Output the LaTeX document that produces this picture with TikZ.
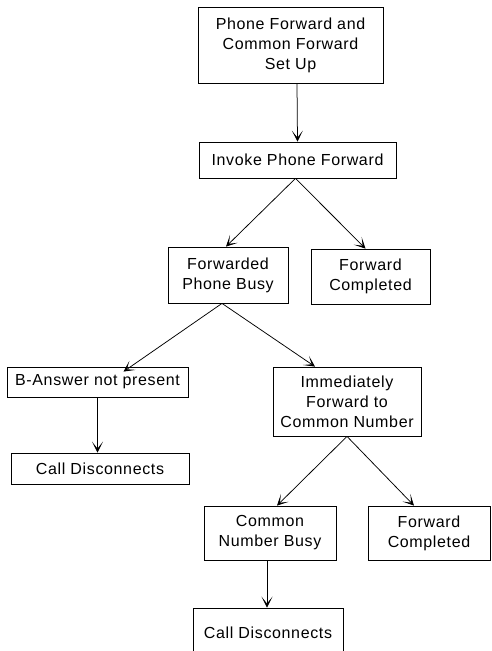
\documentclass[tikz,border=0pt]{standalone}
\usepackage{fontspec}
\setmainfont{Liberation Sans}[LetterSpace=4]
\usetikzlibrary{arrows.meta}
\begin{document}
\begin{tikzpicture}[x=1pt,y=-1pt,
  box/.style={draw=black, line width=0.8pt, inner sep=0pt, align=center,
    font=\fontsize{16}{20}\selectfont},
  flow/.style={draw=black, line width=0.75pt,
    -{Stealth[length=11pt,width=11pt,inset=7pt]}}]
\useasboundingbox (0,0) rectangle (491,651);
% boxes, placed by centre with their measured sizes
\node[box, minimum width=185pt, minimum height=76pt] (setup) at (290.5,45)
  {Phone Forward and\\Common Forward\\Set Up};
\node[box, minimum width=197pt, minimum height=36pt] (invoke) at (297.5,160)
  {Invoke Phone Forward};
\node[box, minimum width=120pt, minimum height=56pt] (fbusy) at (228,275)
  {Forwarded\\Phone Busy};
\node[box, minimum width=119pt, minimum height=55pt] (fdoneA) at (370.5,276.5)
  {Forward\\Completed};
\node[box, minimum width=181pt, minimum height=30pt] (bans) at (97.5,382)
  {B-Answer not present};
\node[box, minimum width=178pt, minimum height=31pt] (discA) at (100,468.5)
  {Call Disconnects};
\node[box, minimum width=148pt, minimum height=69pt] (immed) at (347,401.5)
  {Immediately\\Forward to\\Common Number};
\node[box, minimum width=132pt, minimum height=54pt] (cbusy) at (270,533)
  {Common\\Number Busy};
\node[box, minimum width=122pt, minimum height=54pt] (fdoneB) at (429,533)
  {Forward\\Completed};
\node[box, minimum width=150pt, minimum height=50pt] (discB) at (268,633)
  {Call Disconnects};
% connectors
\draw[flow] ([xshift=6.5pt]setup.south) -- (invoke.north);
\draw[flow] ([xshift=-2pt]invoke.south) -- ([xshift=-2pt]fbusy.north);
\draw[flow] ([xshift=-2pt]invoke.south) -- ([xshift=-5pt]fdoneA.north);
\draw[flow] ([xshift=-6pt]fbusy.south) -- ([xshift=26pt,yshift=-5pt]bans.north);
\draw[flow] ([xshift=-6pt]fbusy.south) -- ([xshift=-32pt]immed.north);
\draw[flow] (bans.south) -- (bans.south |- discA.north);
\draw[flow] (immed.south) -- ([xshift=7pt]cbusy.north);
\draw[flow] (immed.south) -- ([xshift=-15pt]fdoneB.north);
\draw[flow] ([xshift=-3pt]cbusy.south) -- ([xshift=-1pt]discB.north);
\end{tikzpicture}
\end{document}
